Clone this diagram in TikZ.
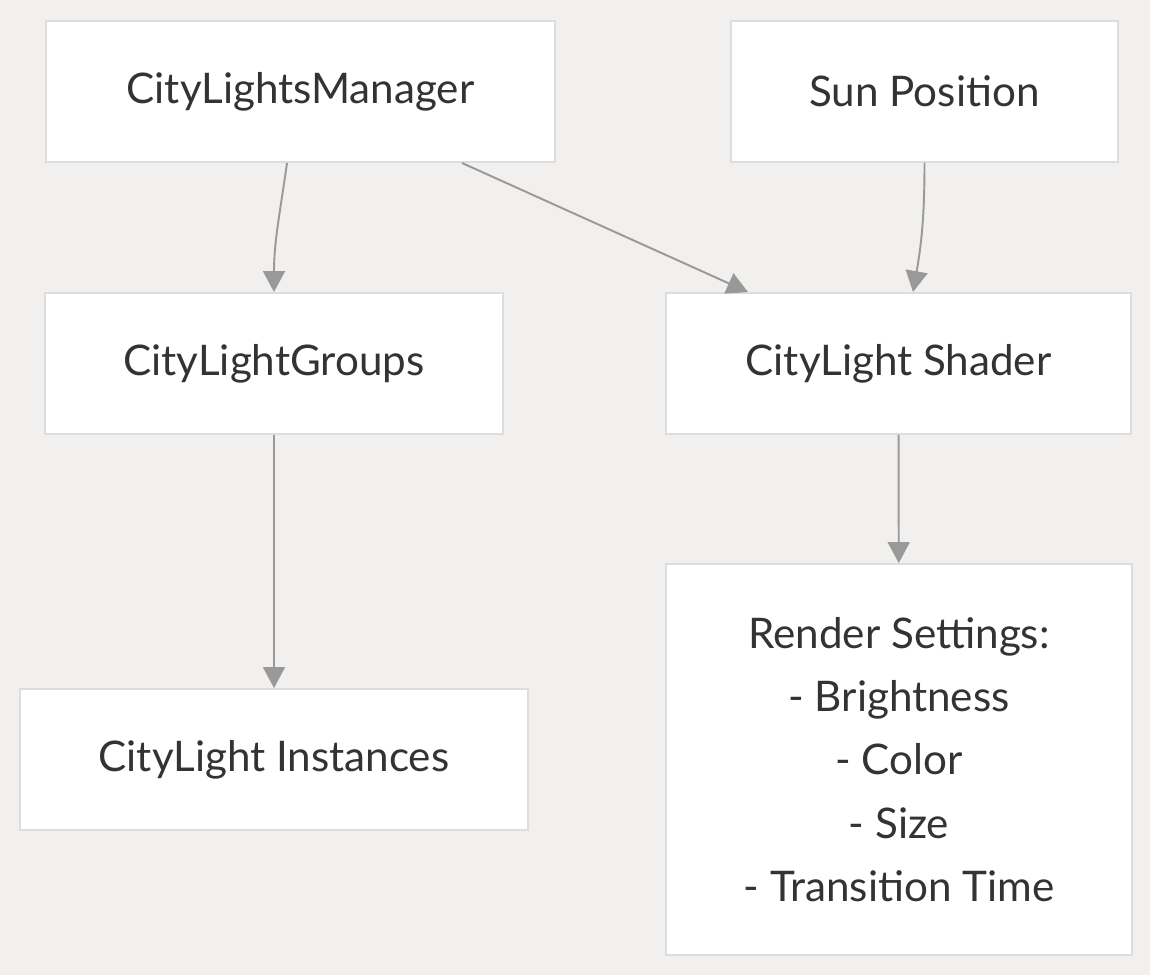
\documentclass[tikz,border=0pt]{standalone}
\usepackage{fontspec}
\setmainfont{Lato}
\usetikzlibrary{arrows.meta}
\definecolor{paper}{HTML}{F1F0EE}
\definecolor{boxline}{HTML}{DDDDDD}
\definecolor{wire}{HTML}{999999}
\definecolor{ink}{HTML}{333333}

\begin{document}
\begin{tikzpicture}
							\tikzstyle{box} = [rectangle,fill=white,draw=boxline,line width=1.1pt,text=ink,font=\fontsize{24}{36}\selectfont,align=center,minimum height=2.82cm,inner sep=0pt]
							\tikzstyle{edge} = [-{Triangle[length=0.42cm,width=0.44cm]},draw=wire,line width=1.1pt]
							\fill[paper] (0,0) rectangle (23,-19.5);
							\useasboundingbox (0,0) rectangle (23,-19.5);
							\node[box,minimum width=10.18cm] (man) at (6.01,-1.83) {CityLightsManager};
							\node[box,minimum width=7.74cm] (sun) at (18.49,-1.83) {Sun Position};
							\node[box,minimum width=9.16cm] (grp) at (5.48,-7.27) {CityLightGroups};
							\node[box,minimum width=9.3cm] (shd) at (17.97,-7.27) {CityLight Shader};
							\node[box,minimum width=10.16cm] (ins) at (5.48,-15.19) {CityLight Instances};
							\node[box,minimum width=9.32cm,minimum height=7.82cm] (rnd) at (17.98,-15.19) {Render Settings:\\- Brightness\\- Color\\- Size\\- Transition Time};
							
							\draw[edge] ([xshift=-0.27cm]man.south) to[out=-98,in=90] (grp.north);
							\draw[edge] ([xshift=3.23cm]man.south) -- ([xshift=-3.01cm]shd.north);
							\draw[edge] (sun.south) to[out=-90,in=80] ([xshift=-0.23cm]sun.south |- shd.north);
							\draw[edge] (grp) -- (ins);
							\draw[edge] (shd) -- (rnd);
							\end{tikzpicture}
\end{document}
